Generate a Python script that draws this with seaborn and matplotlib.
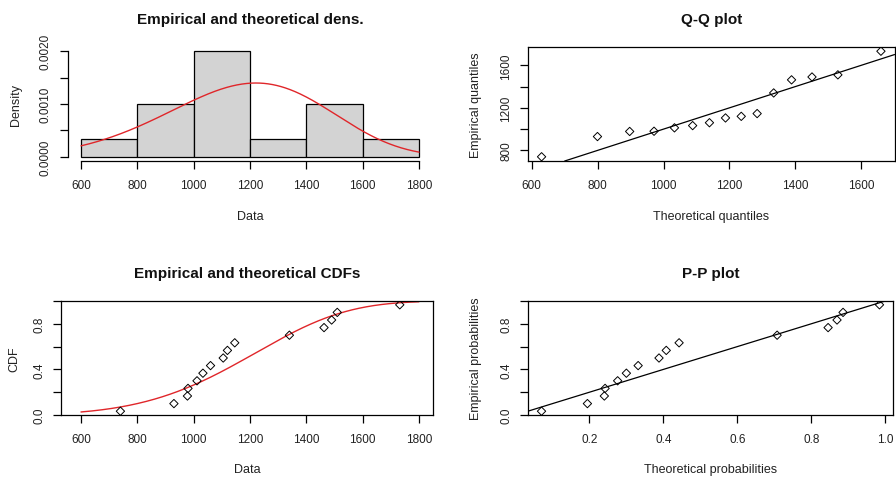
import numpy as np
import pandas as pd
import matplotlib
matplotlib.use("Agg")
import matplotlib.pyplot as plt
import seaborn as sns

# Observed sample (15 values)
observations = [740, 930, 978, 980, 1012, 1033, 1060, 1105, 1120, 1146,
                1340, 1463, 1490, 1510, 1732]
# Fitted Weibull parameters
weibull_shape = 4.76
weibull_scale = 1283.0

hist_breaks = [600, 800, 1000, 1200, 1400, 1600, 1800]

dens_yticks = [0.0, 0.0005, 0.0010, 0.0015, 0.0020]
dens_ylabels = ["0.0000", "", "0.0010", "", "0.0020"]
data_xticks = [600, 800, 1000, 1200, 1400, 1600, 1800]
qq_xticks = [600, 800, 1000, 1200, 1400, 1600]
qq_yticks = [800, 1000, 1200, 1400, 1600]
qq_ylabels = ["800", "", "1200", "", "1600"]
prob_yticks = [0.0, 0.2, 0.4, 0.6, 0.8, 1.0]
prob_ylabels = ["0.0", "", "0.4", "", "0.8", ""]
pp_xticks = [0.2, 0.4, 0.6, 0.8, 1.0]


def wb_pdf(x):
    z = x / weibull_scale
    return weibull_shape / weibull_scale * z ** (weibull_shape - 1) * np.exp(-z ** weibull_shape)


def wb_cdf(x):
    return 1.0 - np.exp(-(x / weibull_scale) ** weibull_shape)


def wb_ppf(p):
    return weibull_scale * (-np.log(1.0 - p)) ** (1.0 / weibull_shape)


obs = np.sort(np.asarray(observations, dtype=float))
n = len(obs)
emp_p = (np.arange(1, n + 1) - 0.5) / n
theo_q = wb_ppf(emp_p)
theo_p = wb_cdf(obs)

grid = np.linspace(hist_breaks[0], hist_breaks[-1], 400)
df_obs = pd.DataFrame({"x": obs, "emp_p": emp_p, "theo_q": theo_q, "theo_p": theo_p})
df_curve = pd.DataFrame({"x": grid, "pdf": wb_pdf(grid), "cdf": wb_cdf(grid)})

sns.set_theme(style="white")
plt.rcParams["font.family"] = ["Liberation Sans", "DejaVu Sans"]
plt.rcParams["axes.linewidth"] = 0.9

W, H = 896, 481
fig = plt.figure(figsize=(W / 100, H / 100), dpi=100)
fig.patch.set_facecolor("white")


def add_box(x0, x1, y0, y1):
    return fig.add_axes([x0 / W, 1 - y1 / H, (x1 - x0) / W, (y1 - y0) / H])


TICK_FS = 8.5
LABEL_FS = 9
TITLE_FS = 11


def style(ax, title, xlabel, ylabel, ylab_x, xlab_y):
    ax.set_facecolor("white")
    for s in ax.spines.values():
        s.set_color("black")
        s.set_linewidth(0.9)
    ax.tick_params(axis="both", which="both", direction="out", length=5.5,
                   width=0.9, color="black", labelsize=TICK_FS, labelcolor="#222222",
                   bottom=True, left=True)
    ax.tick_params(axis="x", pad=7.5)
    ax.tick_params(axis="y", pad=6)
    for lab in ax.get_yticklabels():
        lab.set_rotation(90)
        lab.set_va("center")
        lab.set_ha("right")
    ax.text(0.5, 1 + 28 / 114, title, transform=ax.transAxes, ha="center",
            va="center", fontsize=TITLE_FS, fontweight="bold", color="#111111")
    ax.set_xlabel(xlabel, fontsize=LABEL_FS, color="#222222")
    ax.set_ylabel(ylabel, fontsize=LABEL_FS, color="#222222")
    ax.xaxis.set_label_coords(0.5, xlab_y)
    ax.xaxis.label.set_va("center")
    ax.yaxis.set_label_coords(ylab_x, 0.5)
    ax.yaxis.label.set_va("center")
    ax.grid(False)


def padded(lo, hi, frac=0.04):
    r = hi - lo
    return lo - frac * r, hi + frac * r


# --- Density panel ---
ax1 = add_box(67.5, 432.5, 48, 162)
sns.histplot(data=df_obs, x="x", bins=hist_breaks, stat="density", ax=ax1,
             color="#D3D3D3", edgecolor="black", linewidth=0.9, alpha=1.0)
sns.lineplot(data=df_curve, x="x", y="pdf", ax=ax1, color="#E0262A", linewidth=1.0)
ax1.set_xlim(*padded(600, 1800))
ax1.set_ylim(*padded(0, 0.002))
ax1.set_xticks(data_xticks)
ax1.set_yticks(dens_yticks)
ax1.set_yticklabels(dens_ylabels)
ax1.spines["top"].set_visible(False)
ax1.spines["right"].set_visible(False)
ax1.spines["left"].set_bounds(0, 0.002)
ax1.spines["bottom"].set_bounds(600, 1800)
style(ax1, "Empirical and theoretical dens.", "Data", "Density", -0.141, -0.482)

# --- Q-Q panel ---
ax2 = add_box(528, 894.5, 48, 162)
sns.scatterplot(data=df_obs, x="theo_q", y="x", ax=ax2, marker="D", s=18,
                facecolor="none", edgecolor="black", linewidth=0.7)
ax2.axline((0, 0), slope=1, color="black", linewidth=0.9)
ax2.set_xlim(*padded(theo_q.min(), theo_q.max()))
ax2.set_ylim(*padded(obs.min(), obs.max()))
ax2.set_xticks(qq_xticks)
ax2.set_yticks(qq_yticks)
ax2.set_yticklabels(qq_ylabels)
style(ax2, "Q-Q plot", "Theoretical quantiles", "Empirical quantiles", -0.142, -0.482)

# --- CDF panel ---
ax3 = add_box(61, 433, 302, 416)
sns.lineplot(data=df_curve, x="x", y="cdf", ax=ax3, color="#E0262A", linewidth=1.0)
sns.scatterplot(data=df_obs, x="x", y="emp_p", ax=ax3, marker="D", s=18,
                facecolor="none", edgecolor="black", linewidth=0.7, zorder=3)
ax3.set_xlim(529, 1850)
ax3.set_ylim(0, 1)
ax3.set_xticks(data_xticks)
ax3.set_yticks(prob_yticks)
ax3.set_yticklabels(prob_ylabels)
style(ax3, "Empirical and theoretical CDFs", "Data", "CDF", -0.124, -0.474)

# --- P-P panel ---
ax4 = add_box(528, 893, 302, 416)
sns.scatterplot(data=df_obs, x="theo_p", y="emp_p", ax=ax4, marker="D", s=18,
                facecolor="none", edgecolor="black", linewidth=0.7)
ax4.axline((0, 0), slope=1, color="black", linewidth=0.9)
ax4.set_xlim(*padded(theo_p.min(), theo_p.max()))
ax4.set_ylim(0, 1)
ax4.set_xticks(pp_xticks)
ax4.set_yticks(prob_yticks)
ax4.set_yticklabels(prob_ylabels)
style(ax4, "P-P plot", "Theoretical probabilities", "Empirical probabilities", -0.142, -0.474)

fig.savefig("out.png", dpi=100, facecolor="white")
